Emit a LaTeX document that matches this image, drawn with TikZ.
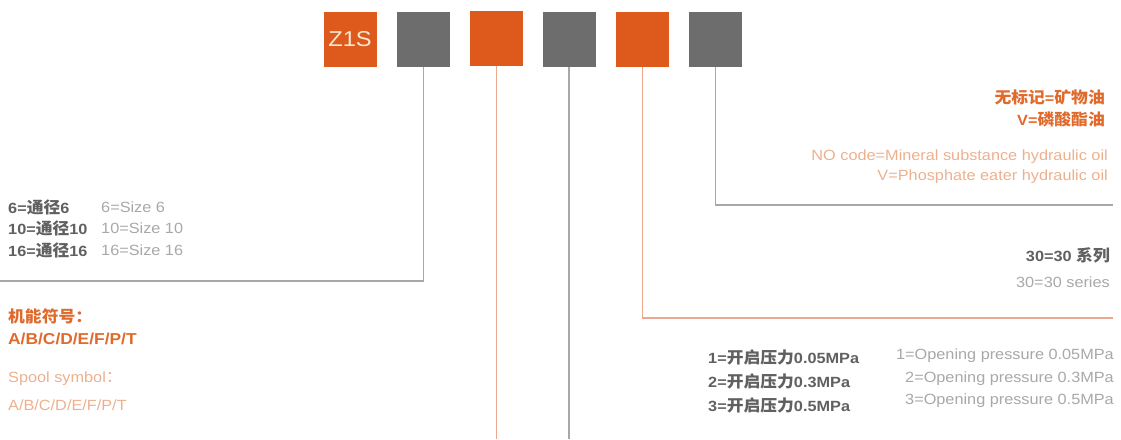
\documentclass[tikz,border=0pt]{standalone}
\usepackage{fontspec}
\setmainfont{Liberation Sans}[FakeStretch=1.1]
\newfontfamily\cjk{Noto Sans CJK SC}[FakeStretch=1.05]
\newcommand\zh[1]{{\cjk\fontsize{16}{18}\selectfont #1}}
\definecolor{boxorange}{HTML}{DD5A1C}
\definecolor{boxgray}{HTML}{6D6D6D}
\definecolor{lingray}{HTML}{A8A8A8}
\definecolor{linorange}{HTML}{EBA88C}
\definecolor{txtorange}{HTML}{E06A2C}
\definecolor{txtlorange}{HTML}{EDB08E}
\definecolor{txtdgray}{HTML}{606060}
\definecolor{txtlgray}{HTML}{A8A8A8}
\definecolor{z1scol}{HTML}{F5E6D2}
\begin{document}
\begin{tikzpicture}[x=1pt,y=-1pt,
  codebox/.style={minimum width=53pt, minimum height=55pt, inner sep=0pt, outer sep=0pt},
  obox/.style={codebox, fill=boxorange},
  gbox/.style={codebox, fill=boxgray},
  gline/.style={draw=lingray, line width=1.3pt},
  oline/.style={draw=linorange, line width=1.3pt},
  lt/.style={anchor=west, inner sep=0pt},
  rt/.style={anchor=east, inner sep=0pt},
  txt/.style={font=\fontsize{14.8}{17}\selectfont},
  bigtxt/.style={font=\fontsize{15.8}{18}\selectfont},
  dtext/.style={txt, text=txtdgray},
  ltext/.style={txt, text=txtlgray},
  otext/.style={txt, text=txtorange},
  lotext/.style={txt, text=txtlorange}]
\useasboundingbox (0,0) rectangle (1121,439);
% code boxes
\node[obox, text=z1scol, font=\fontsize{21.5}{24}\selectfont] (b1) at (350,39.5) {Z1S};
\node[gbox] (b2) at (423.5,39.5) {};
\node[obox] (b3) at (496.5,38) {};
\node[gbox] (b4) at (569,39.5) {};
\node[obox] (b5) at (642.5,39.5) {};
\node[gbox] (b6) at (715.5,39.5) {};
% connector end points
\coordinate (c2) at (0,281);
\coordinate (bot) at (0,439);
\coordinate (c5) at (1113,318);
\coordinate (c6) at (1113,205);
\draw[gline] (b2.south) |- (c2);
\draw[oline] (b3.south) -- (b3.south |- bot);
\draw[gline] (b4.south) -- (b4.south |- bot);
\draw[oline] (b5.south) |- (c5);
\draw[gline] (b6.south) |- (c6);
% left: size
\node[lt, dtext] (s1) at (8,207) {\bfseries 6=\zh{通径}6};
\node[lt, dtext] (s2) at (8,228) {\bfseries 10=\zh{通径}10};
\node[lt, dtext] (s3) at (8,250) {\bfseries 16=\zh{通径}16};
\node[lt, ltext] (e1) at (101,207) {6=Size 6};
\node[lt, ltext] (e2) at (101,228) {10=Size 10};
\node[lt, ltext] (e3) at (101,250) {16=Size 16};
% left: spool symbol
\node[lt, otext] (p1) at (8,316) {\bfseries\zh{机能符号：}};
\node[lt, otext, bigtxt] (p2) at (8,339) {\bfseries A/B/C/D/E/F/P/T};
\node[lt, lotext] (p3) at (8,379) {Spool symbol\zh{：}};
\node[lt, lotext] (p4) at (8,405) {A/B/C/D/E/F/P/T};
% right top: oil
\node[rt, otext] (o1) at (1105,97) {\bfseries\zh{无标记}=\zh{矿物油}};
\node[rt, otext] (o2) at (1105,119) {\bfseries V=\zh{磷酸酯油}};
\node[rt, lotext] (o3) at (1108,157) {NO code=Mineral substance hydraulic oil};
\node[rt, lotext] (o4) at (1108,177) {V=Phosphate eater hydraulic oil};
% series
\node[rt, dtext] (r1) at (1110,255) {\bfseries 30=30 \zh{系列}};
\node[rt, ltext] (r2) at (1110,282) {30=30 series};
% opening pressure
\node[lt, dtext] (q1) at (708,357) {\bfseries 1=\zh{开启压力}0.05MPa};
\node[lt, dtext] (q2) at (708,381) {\bfseries 2=\zh{开启压力}0.3MPa};
\node[lt, dtext] (q3) at (708,405) {\bfseries 3=\zh{开启压力}0.5MPa};
\node[rt, ltext] (f1) at (1114,356) {1=Opening pressure 0.05MPa};
\node[rt, ltext] (f2) at (1114,379) {2=Opening pressure 0.3MPa};
\node[rt, ltext] (f3) at (1114,401) {3=Opening pressure 0.5MPa};
\end{tikzpicture}
\end{document}
